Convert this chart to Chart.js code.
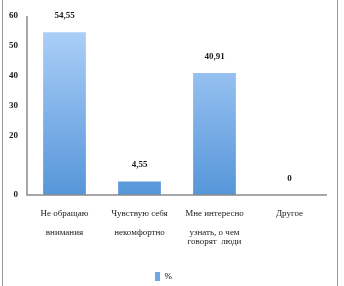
<!DOCTYPE html>
<html>
<head>
<meta charset="utf-8">
<script src="https://cdn.jsdelivr.net/npm/chart.js@4.4.1/dist/chart.umd.min.js"></script>
<style>
  html, body { margin: 0; padding: 0; background: #fff; }
  #wrap { position: relative; width: 344px; height: 286px; }
  #wrap::before, #wrap::after { content: ""; position: absolute; top: 0; bottom: 0; width: 1px; background: #9a9a9a; }
  #wrap::before { left: 2px; }
  #wrap::after { left: 337px; }
</style>
</head>
<body>
<div id="wrap"><canvas id="c" width="344" height="286"></canvas></div>
<script>
// categories, values, ticks
const categories = [
  ["Не обращаю", "", "внимания"],
  ["Чувствую себя", "", "некомфортно"],
  ["Мне интересно", "", "узнать, о чем", "говорят  люди"],
  ["Другое"],
];
const values = [54.55, 4.55, 40.91, 0];
const seriesName = "%";
const yTicksShown = [0, 20, 30, 40, 50, 60];

const FONT = "'Liberation Serif', 'DejaVu Serif', serif";
const fmt = (v) => String(v).replace(".", ",");

function barFill(ctx) {
  const area = ctx.chart.chartArea;
  if (!area) return "#7fb0e8";
  const g = ctx.chart.ctx.createLinearGradient(0, area.top, 0, area.bottom);
  g.addColorStop(0, "#b3d4fb");
  g.addColorStop(1, "#5696d9");
  return g;
}

// value labels above each bar + grey axis lines on the left and bottom
const decorations = {
  id: "decorations",
  afterDraw(chart) {
    const c = chart.ctx;
    const area = chart.chartArea;
    c.save();
    c.strokeStyle = "#8a8a8a";
    c.lineWidth = 1.5;
    const lx = Math.round(area.left);
    const by = Math.round(area.bottom);
    c.beginPath();
    c.moveTo(lx, area.top);
    c.lineTo(lx, by);
    c.lineTo(area.right, by);
    c.stroke();

    c.font = "bold 9px " + FONT;
    c.fillStyle = "#1a1a1a";
    c.textAlign = "center";
    c.textBaseline = "bottom";
    chart.getDatasetMeta(0).data.forEach((bar, i) => {
      c.fillText(fmt(values[i]), bar.x, bar.y - 12);
    });
    c.restore();
  },
};

new Chart(document.getElementById("c"), {
  type: "bar",
  data: {
    labels: categories,
    datasets: [{
      label: seriesName,
      data: values,
      backgroundColor: barFill,
      borderWidth: 0,
      categoryPercentage: 1,
      barPercentage: 0.57,
    }],
  },
  options: {
    responsive: false,
    animation: false,
    layout: { padding: { left: 0, right: 17, top: 16, bottom: -5 } },
    scales: {
      y: {
        min: 0,
        max: 60,
        afterFit: (s) => { s.width = 27; },
        grid: { display: false, drawTicks: false },
        border: { display: false },
        ticks: {
          stepSize: 10,
          padding: 9,
          color: "#1a1a1a",
          font: { family: FONT, size: 9, weight: "bold" },
          callback: (v) => (yTicksShown.includes(v) ? v : ""),
        },
      },
      x: {
        grid: { display: false, drawTicks: false },
        border: { display: false },
        afterFit: (s) => { s.height = 73; },
        ticks: {
          padding: 14,
          maxRotation: 0,
          autoSkip: false,
          color: "#1a1a1a",
          font: { family: FONT, size: 9, lineHeight: 1.05 },
        },
      },
    },
    plugins: {
      legend: {
        position: "bottom",
        labels: {
          boxWidth: 5,
          boxHeight: 9,
          padding: 4,
          color: "#1a1a1a",
          font: { family: FONT, size: 9 },
          generateLabels: () => [{ text: seriesName, fillStyle: "#6fa6e6", strokeStyle: "#6fa6e6", lineWidth: 0 }],
        },
      },
      tooltip: { enabled: false },
    },
  },
  plugins: [decorations],
});
</script>
</body>
</html>
